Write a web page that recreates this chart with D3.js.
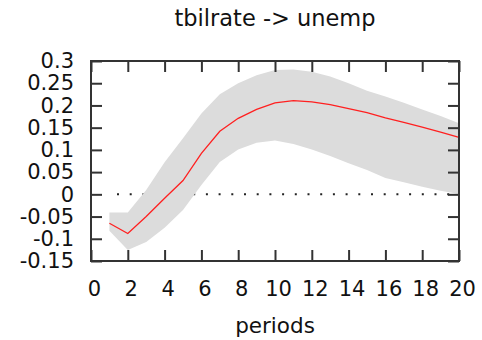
<!DOCTYPE html>
<html>
<head>
<meta charset="utf-8">
<script src="https://cdn.jsdelivr.net/npm/d3@7"></script>
<style>
  html, body { margin: 0; padding: 0; background: #fff; }
  svg { display: block; }
  text { font-family: "DejaVu Sans", Verdana, sans-serif; fill: #111; }
</style>
</head>
<body>
<div id="chart"></div>
<script>
// Impulse response of unemployment to a tbilrate shock, with confidence band
const periods = [1, 2, 3, 4, 5, 6, 7, 8, 9, 10, 11, 12, 13, 14, 15, 16, 17, 18, 19, 20];
const response = [-0.065, -0.088, -0.050, -0.009, 0.031, 0.092, 0.142, 0.171, 0.191, 0.206,
                  0.211, 0.208, 0.202, 0.193, 0.184, 0.172, 0.162, 0.151, 0.140, 0.128];
const upperBand = [-0.041, -0.041, 0.010, 0.072, 0.126, 0.182, 0.225, 0.250, 0.268, 0.280,
                   0.281, 0.276, 0.265, 0.250, 0.233, 0.220, 0.206, 0.191, 0.176, 0.160];
const lowerBand = [-0.082, -0.125, -0.107, -0.075, -0.035, 0.021, 0.073, 0.101, 0.116, 0.121,
                   0.113, 0.101, 0.086, 0.070, 0.055, 0.037, 0.027, 0.017, 0.008, 0.001];
const xTicks = [0, 2, 4, 6, 8, 10, 12, 14, 16, 18, 20];
const yTicks = [-0.15, -0.1, -0.05, 0, 0.05, 0.1, 0.15, 0.2, 0.25, 0.3];
const title = "tbilrate -> unemp";
const xLabel = "periods";

const W = 482, H = 340;
const plotL = 91, plotR = 459, plotT = 61, plotB = 261;

const svg = d3.select("#chart").append("svg")
  .attr("width", W).attr("height", H);

const x = d3.scaleLinear().domain([0, 20]).range([plotL, plotR]);
const y = d3.scaleLinear().domain([-0.15, 0.3]).range([plotB, plotT]);

const rows = periods.map((p, i) => ({ p, v: response[i], lo: lowerBand[i], hi: upperBand[i] }));

// zero reference line (dotted)
svg.append("line")
  .attr("x1", x(1)).attr("x2", x(20))
  .attr("y1", y(0)).attr("y2", y(0))
  .attr("stroke", "#222").attr("stroke-width", 2)
  .attr("stroke-dasharray", "2,10.7")
  .attr("stroke-dashoffset", 5.1);

// confidence band
svg.append("path")
  .datum(rows)
  .attr("fill", "#dcdcdc")
  .attr("d", d3.area().x(d => x(d.p)).y0(d => y(d.lo)).y1(d => y(d.hi)));

// point estimate
svg.append("path")
  .datum(rows)
  .attr("fill", "none")
  .attr("stroke", "#ff2020")
  .attr("stroke-width", 1.3)
  .attr("d", d3.line().x(d => x(d.p)).y(d => y(d.v)));

// plain ASCII hyphen for negative labels
const fmt = d => String(+d.toFixed(2));
const tickLen = 11;

// axes with inward ticks on all four sides
const gl = svg.append("g").attr("transform", `translate(${plotL},0)`)
  .call(d3.axisLeft(y).tickValues(yTicks).tickSize(-tickLen).tickPadding(17).tickFormat(fmt));
const gr = svg.append("g").attr("transform", `translate(${plotR},0)`)
  .call(d3.axisRight(y).tickValues(yTicks).tickSize(-tickLen).tickFormat(""));
const gb = svg.append("g").attr("transform", `translate(0,${plotB})`)
  .call(d3.axisBottom(x).tickValues(xTicks).tickSize(-tickLen).tickPadding(20).tickFormat(fmt));
const gt = svg.append("g").attr("transform", `translate(0,${plotT})`)
  .call(d3.axisTop(x).tickValues(xTicks).tickSize(-tickLen).tickFormat(""));

[gl, gr, gb, gt].forEach(g => {
  g.attr("font-family", null).attr("font-size", null);
  g.select(".domain").remove();
  g.selectAll(".tick line").attr("stroke", "#333").attr("stroke-width", 2);
  g.selectAll(".tick text").style("font-size", "21px").style("fill", "#111");
});
gb.selectAll(".tick text").attr("dx", 3);

// frame
svg.append("rect")
  .attr("x", plotL).attr("y", plotT)
  .attr("width", plotR - plotL).attr("height", plotB - plotT)
  .attr("fill", "none").attr("stroke", "#333").attr("stroke-width", 2);

svg.append("text")
  .attr("x", 275).attr("y", 26)
  .attr("text-anchor", "middle")
  .style("font-size", "22.5px")
  .text(title);

svg.append("text")
  .attr("x", 275).attr("y", 333)
  .attr("text-anchor", "middle")
  .style("font-size", "21.5px")
  .text(xLabel);
</script>
</body>
</html>
